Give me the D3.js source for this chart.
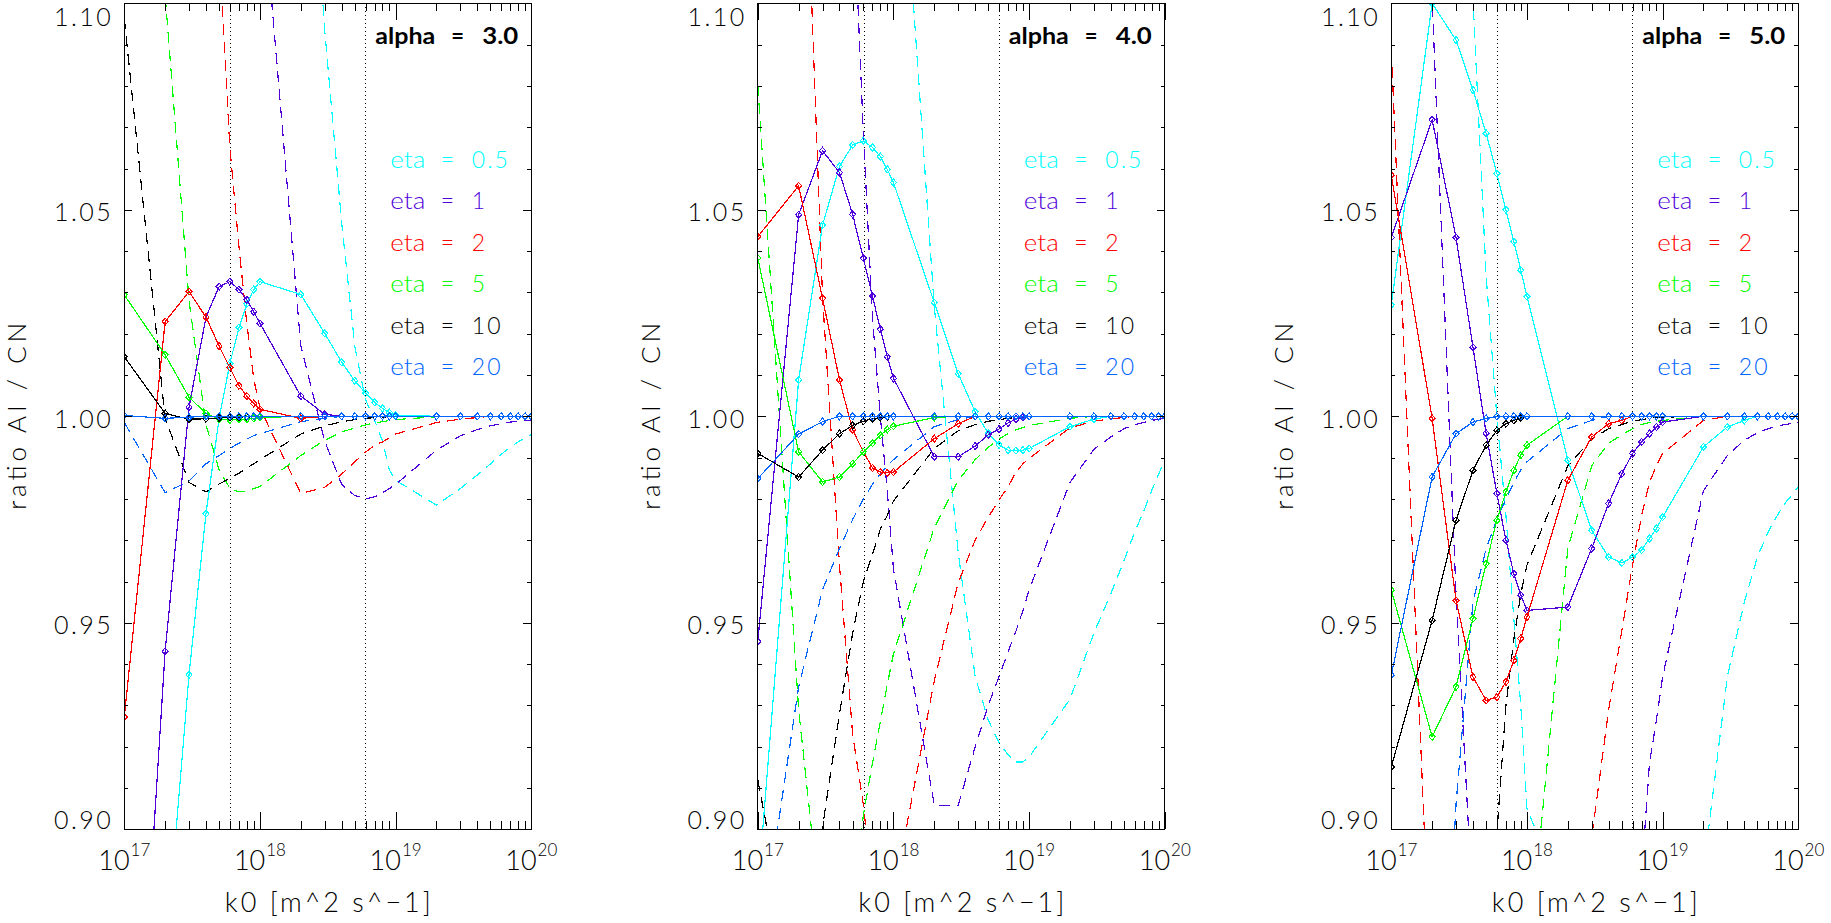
<!DOCTYPE html>
<html lang="en">
<head>
<meta charset="UTF-8" />
<title>ratio AI / CN vs k0</title>
<script src="https://cdn.jsdelivr.net/npm/d3@7"></script>
<style>
body{margin:0;background:#fff}
svg{display:block;background:#fff}
text{font-family:Lato,"DejaVu Sans",sans-serif;font-weight:300;fill:#000}
.axis line{stroke:#000;shape-rendering:crispEdges}
.series{shape-rendering:crispEdges}
</style>
</head>
<body>
<svg id="chart" width="1831" height="923"></svg>
<script>
/* ===== data: one value per k0 grid point ===== */
const kGrid=[1e17,2e17,3e17,4e17,5e17,6e17,7e17,8e17,9e17,
             1e18,2e18,3e18,4e18,5e18,6e18,7e18,8e18,9e18,
             1e19,2e19,3e19,4e19,5e19,6e19,7e19,8e19,9e19,1e20];
const etaLabels=['0.5','1','2','5','10','20'];
const alphaLabels=['3.0','4.0','5.0'];
const refK=[6e17,6e18];

/* alpha = 3.0 : solid (with diamonds) */
const a3s_05=[0.75,0.868,0.9374,0.9764,0.9995,1.0128,1.0215,1.0272,1.0307,1.0326,1.0295,1.0201,1.0131,1.0086,1.0056,1.0034,1.0019,1.0009,1.0003,1.0,1.0,1.0,1.0,1.0,1.0,1.0,1.0,1.0];
const a3s_1 =[0.786,0.9431,1.0022,1.024,1.0314,1.0326,1.0307,1.0282,1.0253,1.0225,1.0049,1.0005,1.0,1.0,1.0,1.0,1.0,1.0,1.0,1.0,1.0,1.0,1.0,1.0,1.0,1.0,1.0,1.0];
const a3s_2 =[0.9272,1.0229,1.0302,1.024,1.017,1.0118,1.0074,1.0049,1.0031,1.0017,0.9995,1.0,1.0,1.0,1.0,1.0,1.0,1.0,1.0,1.0,1.0,1.0,1.0,1.0,1.0,1.0,1.0,1.0];
const a3s_5 =[1.0294,1.0149,1.0046,1.0007,0.9993,0.9991,0.9993,0.9993,0.9995,0.9997,1.0,1.0,1.0,1.0,1.0,1.0,1.0,1.0,1.0,1.0,1.0,1.0,1.0,1.0,1.0,1.0,1.0,1.0];
const a3s_10=[1.0144,1.0007,0.9993,0.9994,0.9996,0.9997,0.9998,0.9999,1.0,1.0,1.0,1.0,1.0,1.0,1.0,1.0,1.0,1.0,1.0,1.0,1.0,1.0,1.0,1.0,1.0,1.0,1.0,1.0];
const a3s_20=[1.0002,0.9995,0.9998,1.0,1.0,1.0,1.0,1.0,1.0,1.0,1.0,1.0,1.0,1.0,1.0,1.0,1.0,1.0,1.0,1.0,1.0,1.0,1.0,1.0,1.0,1.0,1.0,1.0];
/* alpha = 3.0 : dashed */
const a3d_05=[1.4,1.3,1.25,1.22,1.21,1.2,1.19,1.185,1.18,1.18,1.183,1.0935,1.047,1.017,1.004,0.999,0.994,0.987,0.9845,0.9785,0.9825,0.9858,0.9885,0.9908,0.9925,0.9938,0.9948,0.9956];
const a3d_1 =[1.5,1.45,1.4,1.35,1.3,1.26,1.22,1.19,1.16,1.134,1.017,0.994,0.9835,0.9808,0.98,0.9805,0.9815,0.9825,0.9835,0.9918,0.9953,0.9968,0.9977,0.9982,0.9986,0.9988,0.999,0.9991];
const a3d_2 =[1.6,1.4,1.3,1.2,1.114,1.065,1.0411,1.0225,1.009,1.002,0.9813,0.9828,0.986,0.989,0.9913,0.993,0.9938,0.9948,0.9957,0.9985,0.9993,0.9997,1.0,1.0,1.0,1.0,1.0,1.0];
const a3d_5 =[1.35,1.102,1.028,0.998,0.987,0.9826,0.9817,0.9818,0.9825,0.983,0.9905,0.9942,0.9962,0.9972,0.9979,0.9984,0.9987,0.999,0.9992,0.9999,1.0,1.0,1.0,1.0,1.0,1.0,1.0,1.0];
const a3d_10=[1.0964,0.9995,0.984,0.9817,0.9836,0.985,0.9862,0.9875,0.9885,0.9895,0.9957,0.9977,0.9987,0.9992,0.9995,0.9997,0.9998,0.9999,1.0,1.0,1.0,1.0,1.0,1.0,1.0,1.0,1.0,1.0];
const a3d_20=[0.9985,0.9815,0.9843,0.9885,0.9905,0.9922,0.9935,0.9945,0.9953,0.9958,0.9987,0.9995,1.0,1.0,1.0,1.0,1.0,1.0,1.0,1.0,1.0,1.0,1.0,1.0,1.0,1.0,1.0,1.0];

/* alpha = 4.0 : solid */
const a4s_05=[0.885,1.0088,1.0463,1.0605,1.0657,1.0667,1.0651,1.0629,1.0598,1.0566,1.0275,1.0103,1.0011,0.9959,0.9931,0.9918,0.9917,0.9918,0.9922,0.9975,0.9993,1.0,1.0,1.0,1.0,1.0,1.0,1.0];
const a4s_1 =[0.9455,1.0488,1.0643,1.059,1.0489,1.0383,1.0291,1.0211,1.0144,1.0092,0.9902,0.9902,0.9928,0.9955,0.9969,0.9984,0.9993,0.9997,1.0,1.0,1.0,1.0,1.0,1.0,1.0,1.0,1.0,1.0];
const a4s_2 =[1.0435,1.0558,1.0286,1.0088,0.9967,0.9914,0.9875,0.9865,0.9863,0.9865,0.9946,0.9982,1.0,1.0,1.0,1.0,1.0,1.0,1.0,1.0,1.0,1.0,1.0,1.0,1.0,1.0,1.0,1.0];
const a4s_5 =[1.0383,0.9914,0.9841,0.9853,0.9885,0.9914,0.9935,0.9954,0.9968,0.9976,0.9997,1.0,1.0,1.0,1.0,1.0,1.0,1.0,1.0,1.0,1.0,1.0,1.0,1.0,1.0,1.0,1.0,1.0];
const a4s_10=[0.991,0.9853,0.9918,0.9958,0.9978,0.9988,0.9994,0.9997,0.9999,1.0,1.0,1.0,1.0,1.0,1.0,1.0,1.0,1.0,1.0,1.0,1.0,1.0,1.0,1.0,1.0,1.0,1.0,1.0];
const a4s_20=[0.9849,0.9957,0.9987,1.0,1.0,1.0,1.0,1.0,1.0,1.0,1.0,1.0,1.0,1.0,1.0,1.0,1.0,1.0,1.0,1.0,1.0,1.0,1.0,1.0,1.0,1.0,1.0,1.0];
/* alpha = 4.0 : dashed */
const a4d_05=[1.6,1.5,1.45,1.4,1.35,1.3,1.26,1.23,1.2,1.17,1.0265,0.967,0.937,0.9264,0.921,0.918,0.9163,0.9163,0.9175,0.9315,0.9475,0.957,0.965,0.972,0.977,0.982,0.986,0.9893];
const a4d_1 =[1.6,1.5,1.4,1.3,1.13,1.0685,1.024,1.0,0.982,0.963,0.9058,0.9058,0.92,0.93,0.937,0.943,0.948,0.953,0.958,0.984,0.992,0.995,0.997,0.998,0.9985,0.999,0.9993,0.9995];
const a4d_2 =[1.5,1.186,1.029,0.964,0.923,0.906,0.885,0.875,0.875,0.884,0.936,0.9597,0.97,0.9756,0.9797,0.983,0.9865,0.9885,0.9898,0.9972,0.9988,0.9994,0.9997,1.0,1.0,1.0,1.0,1.0];
const a4d_5 =[1.0802,0.929,0.875,0.868,0.88,0.9035,0.916,0.926,0.935,0.9425,0.973,0.9845,0.9895,0.9925,0.9945,0.9958,0.9967,0.9973,0.9978,0.9995,1.0,1.0,1.0,1.0,1.0,1.0,1.0,1.0];
const a4d_10=[0.912,0.86,0.9005,0.928,0.9475,0.96,0.9665,0.9727,0.976,0.9795,0.9922,0.9965,0.998,0.9988,0.9992,0.9995,0.9997,0.9998,0.9999,1.0,1.0,1.0,1.0,1.0,1.0,1.0,1.0,1.0];
const a4d_20=[0.868,0.9345,0.958,0.968,0.975,0.98,0.9835,0.986,0.988,0.9895,0.9975,0.9992,1.0,1.0,1.0,1.0,1.0,1.0,1.0,1.0,1.0,1.0,1.0,1.0,1.0,1.0,1.0,1.0];

/* alpha = 5.0 : solid */
const a5s_05=[1.027,1.1,1.0911,1.079,1.0685,1.0588,1.05,1.0423,1.0354,1.029,0.9894,0.9724,0.9659,0.9645,0.9659,0.9676,0.9704,0.9728,0.9756,0.9926,0.9974,0.999,1.0,1.0,1.0,1.0,1.0,1.0];
const a5s_1 =[1.0433,1.0718,1.0433,1.0167,0.9959,0.9813,0.97,0.9619,0.9567,0.953,0.9538,0.968,0.9789,0.9861,0.991,0.9938,0.9958,0.9974,0.9986,1.0,1.0,1.0,1.0,1.0,1.0,1.0,1.0,1.0];
const a5s_2 =[1.0584,0.9995,0.9554,0.9369,0.9312,0.932,0.9357,0.9409,0.9462,0.9514,0.9845,0.995,0.9982,0.999,1.0,1.0,1.0,1.0,1.0,1.0,1.0,1.0,1.0,1.0,1.0,1.0,1.0,1.0];
const a5s_5 =[0.9579,0.9224,0.9345,0.951,0.9643,0.9748,0.9817,0.9869,0.9906,0.993,1.0,1.0,1.0,1.0,1.0,1.0,1.0,1.0,1.0,1.0,1.0,1.0,1.0,1.0,1.0,1.0,1.0,1.0];
const a5s_10=[0.9151,0.9506,0.9748,0.9869,0.993,0.9966,0.9982,0.999,0.9996,1.0,1.0,1.0,1.0,1.0,1.0,1.0,1.0,1.0,1.0,1.0,1.0,1.0,1.0,1.0,1.0,1.0,1.0,1.0];
const a5s_20=[0.9373,0.9853,0.9958,0.9986,0.9995,1.0,1.0,1.0,1.0,1.0,1.0,1.0,1.0,1.0,1.0,1.0,1.0,1.0,1.0,1.0,1.0,1.0,1.0,1.0,1.0,1.0,1.0,1.0];
/* alpha = 5.0 : dashed */
const a5d_05=[1.8,1.6,1.4,1.101,1.034,1.0,0.976,0.951,0.93,0.905,0.881,0.85,0.83,0.82,0.82,0.825,0.83,0.84,0.85,0.89,0.937,0.955,0.966,0.972,0.976,0.979,0.981,0.983];
const a5d_1 =[1.4,1.101,0.957,0.88,0.85,0.83,0.82,0.81,0.8,0.8,0.8,0.81,0.83,0.85,0.87,0.889,0.916,0.9265,0.937,0.982,0.9905,0.9942,0.996,0.997,0.9977,0.998,0.9983,0.9985];
const a5d_2 =[1.089,0.855,0.8,0.78,0.77,0.76,0.76,0.76,0.77,0.78,0.83,0.898,0.929,0.948,0.964,0.976,0.984,0.988,0.991,0.999,1.0,1.0,1.0,1.0,1.0,1.0,1.0,1.0];
const a5d_5 =[0.7,0.72,0.74,0.76,0.78,0.8,0.82,0.84,0.855,0.865,0.968,0.988,0.9935,0.9955,0.997,0.998,0.9985,0.9988,0.999,1.0,1.0,1.0,1.0,1.0,1.0,1.0,1.0,1.0];
const a5d_10=[0.7,0.72,0.75,0.8,0.85,0.899,0.93,0.946,0.957,0.964,0.988,0.9945,0.997,0.998,0.9988,0.9992,0.9995,0.9997,0.9998,1.0,1.0,1.0,1.0,1.0,1.0,1.0,1.0,1.0];
const a5d_20=[0.7,0.8,0.906,0.955,0.968,0.975,0.98,0.984,0.987,0.989,0.997,0.999,1.0,1.0,1.0,1.0,1.0,1.0,1.0,1.0,1.0,1.0,1.0,1.0,1.0,1.0,1.0,1.0];

const yMajor=[0.90,0.95,1.00,1.05,1.10];
const yMinor=[0.91,0.92,0.93,0.94,0.96,0.97,0.98,0.99,1.01,1.02,1.03,1.04,1.06,1.07,1.08,1.09];
const xMajor=[1e17,1e18,1e19,1e20];
const xExp=['17','18','19','20'];
const xMinor=[2e17,3e17,4e17,5e17,6e17,7e17,8e17,9e17,2e18,3e18,4e18,5e18,6e18,7e18,8e18,9e18,2e19,3e19,4e19,5e19,6e19,7e19,8e19,9e19];

/* ===== styles ===== */
const etaColors=['#00ffff','#5000d8','#ff0000','#00ff00','#000000','#0064ff'];
const panels=[
  {solid:[a3s_05,a3s_1,a3s_2,a3s_5,a3s_10,a3s_20],dashed:[a3d_05,a3d_1,a3d_2,a3d_5,a3d_10,a3d_20]},
  {solid:[a4s_05,a4s_1,a4s_2,a4s_5,a4s_10,a4s_20],dashed:[a4d_05,a4d_1,a4d_2,a4d_5,a4d_10,a4d_20]},
  {solid:[a5s_05,a5s_1,a5s_2,a5s_5,a5s_10,a5s_20],dashed:[a5d_05,a5d_1,a5d_2,a5d_5,a5d_10,a5d_20]}
];

/* ===== layout ===== */
const W=407,H=826,TOP=3.3,LEFT0=124.3,STEP=633.5;
const svg=d3.select('#chart');
const x=d3.scaleLog().domain([1e17,1e20]).range([0,W]);
const y=d3.scaleLinear().domain([0.9,1.1]).range([H,0]);
const line=d3.line().x((d,i)=>x(kGrid[i])).y(d=>y(d));
const diamond='M0,-3.5L3,0L0,3.5L-3,0Z';

function ticks(g,axis,tr){
  g.append('g').attr('class','axis').attr('transform',tr).call(axis)
   .call(a=>a.select('.domain').remove());
}

panels.forEach((p,i)=>{
  const g=svg.append('g').attr('transform',`translate(${LEFT0+i*STEP},${TOP})`);
  const cid='clip'+i;
  g.append('clipPath').attr('id',cid).append('rect').attr('width',W).attr('height',H);
  const plot=g.append('g').attr('class','series').attr('clip-path',`url(#${cid})`);

  /* dotted reference lines */
  refK.forEach(k=>plot.append('line')
    .attr('x1',Math.round(x(k))+0.5).attr('x2',Math.round(x(k))+0.5).attr('y1',0).attr('y2',H)
    .attr('stroke','#000').attr('stroke-width',1).attr('stroke-dasharray','1,3'));

  /* dashed curves */
  p.dashed.forEach((d,j)=>plot.append('path').datum(d).attr('d',line)
    .attr('fill','none').attr('stroke',etaColors[j]).attr('stroke-width',1.2)
    .attr('stroke-dasharray','11,7'));

  /* solid curves with diamonds */
  p.solid.forEach((d,j)=>{
    plot.append('path').datum(d).attr('d',line)
      .attr('fill','none').attr('stroke',etaColors[j]).attr('stroke-width',1.2);
    plot.append('g').selectAll('path').data(d).join('path')
      .attr('d',diamond).attr('transform',(v,n)=>`translate(${x(kGrid[n])},${y(v)})`)
      .attr('fill','none').attr('stroke',etaColors[j]).attr('stroke-width',1.1);
  });

  /* frame and ticks */
  g.append('rect').attr('width',W).attr('height',H).attr('fill','none')
   .attr('stroke','#000').attr('stroke-width',1.3).attr('shape-rendering','crispEdges');
  ticks(g,d3.axisBottom(x).tickValues(xMajor).tickSize(-17).tickFormat(''),`translate(0,${H})`);
  ticks(g,d3.axisBottom(x).tickValues(xMinor).tickSize(-8).tickFormat(''),`translate(0,${H})`);
  ticks(g,d3.axisTop(x).tickValues(xMajor).tickSize(-17).tickFormat(''),'translate(0,0)');
  ticks(g,d3.axisTop(x).tickValues(xMinor).tickSize(-8).tickFormat(''),'translate(0,0)');
  ticks(g,d3.axisLeft(y).tickValues(yMajor).tickSize(-8).tickFormat(''),'translate(0,0)');
  ticks(g,d3.axisLeft(y).tickValues(yMinor).tickSize(-4).tickFormat(''),'translate(0,0)');
  ticks(g,d3.axisRight(y).tickValues(yMajor).tickSize(-8).tickFormat(''),`translate(${W},0)`);
  ticks(g,d3.axisRight(y).tickValues(yMinor).tickSize(-4).tickFormat(''),`translate(${W},0)`);

  /* y tick labels */
  yMajor.forEach(v=>{
    const off=v===0.9?0:(v===1.1?22.5:11.5);
    g.append('text').attr('x',-11).attr('y',y(v)+off).attr('text-anchor','end')
     .attr('font-size',25).attr('letter-spacing',2.5).text(d3.format('.2f')(v));
  });
  /* x tick labels 10^n */
  xMajor.forEach((k,n)=>{
    const t=g.append('text').attr('x',x(k)).attr('y',H+41).attr('text-anchor','middle').attr('font-size',27);
    t.append('tspan').text('10');
    t.append('tspan').attr('dy',-14).attr('dx',1).attr('font-size',17).text(xExp[n]);
  });
  /* axis titles */
  g.append('text').attr('x',W/2).attr('y',908.4).attr('text-anchor','middle')
   .attr('font-size',27).attr('textLength',206).attr('lengthAdjust','spacing').text('k0 [m^2 s^\u22121]');
  g.append('text').attr('transform',`translate(-98,${H/2}) rotate(-90)`).attr('text-anchor','middle')
   .attr('font-size',26).attr('textLength',187).attr('lengthAdjust','spacing').text('ratio AI / CN');

  /* alpha label */
  const ay=40.7;
  g.append('text').attr('x',W-156).attr('y',ay).attr('font-size',22).style('font-weight',700)
   .attr('textLength',60).attr('lengthAdjust','spacingAndGlyphs').text('alpha');
  g.append('text').attr('x',W-80).attr('y',ay).attr('font-size',22).style('font-weight',700).text('=');
  g.append('text').attr('x',W-49).attr('y',ay).attr('font-size',22).style('font-weight',700)
   .attr('textLength',36).attr('lengthAdjust','spacingAndGlyphs').text(alphaLabels[i]);

  /* eta legend */
  etaLabels.forEach((lab,j)=>{
    const ly=164.7+j*41.4;
    const c=etaColors[j];
    g.append('text').attr('x',W-141).attr('y',ly).attr('font-size',23).style('fill',c)
     .attr('textLength',35).attr('lengthAdjust','spacingAndGlyphs').text('eta');
    g.append('text').attr('x',W-90.5).attr('y',ly).attr('font-size',23).style('fill',c).text('=');
    g.append('text').attr('x',W-59.5).attr('y',ly).attr('font-size',23).style('fill',c)
     .attr('letter-spacing',2).text(lab);
  });
});
</script>
</body>
</html>
